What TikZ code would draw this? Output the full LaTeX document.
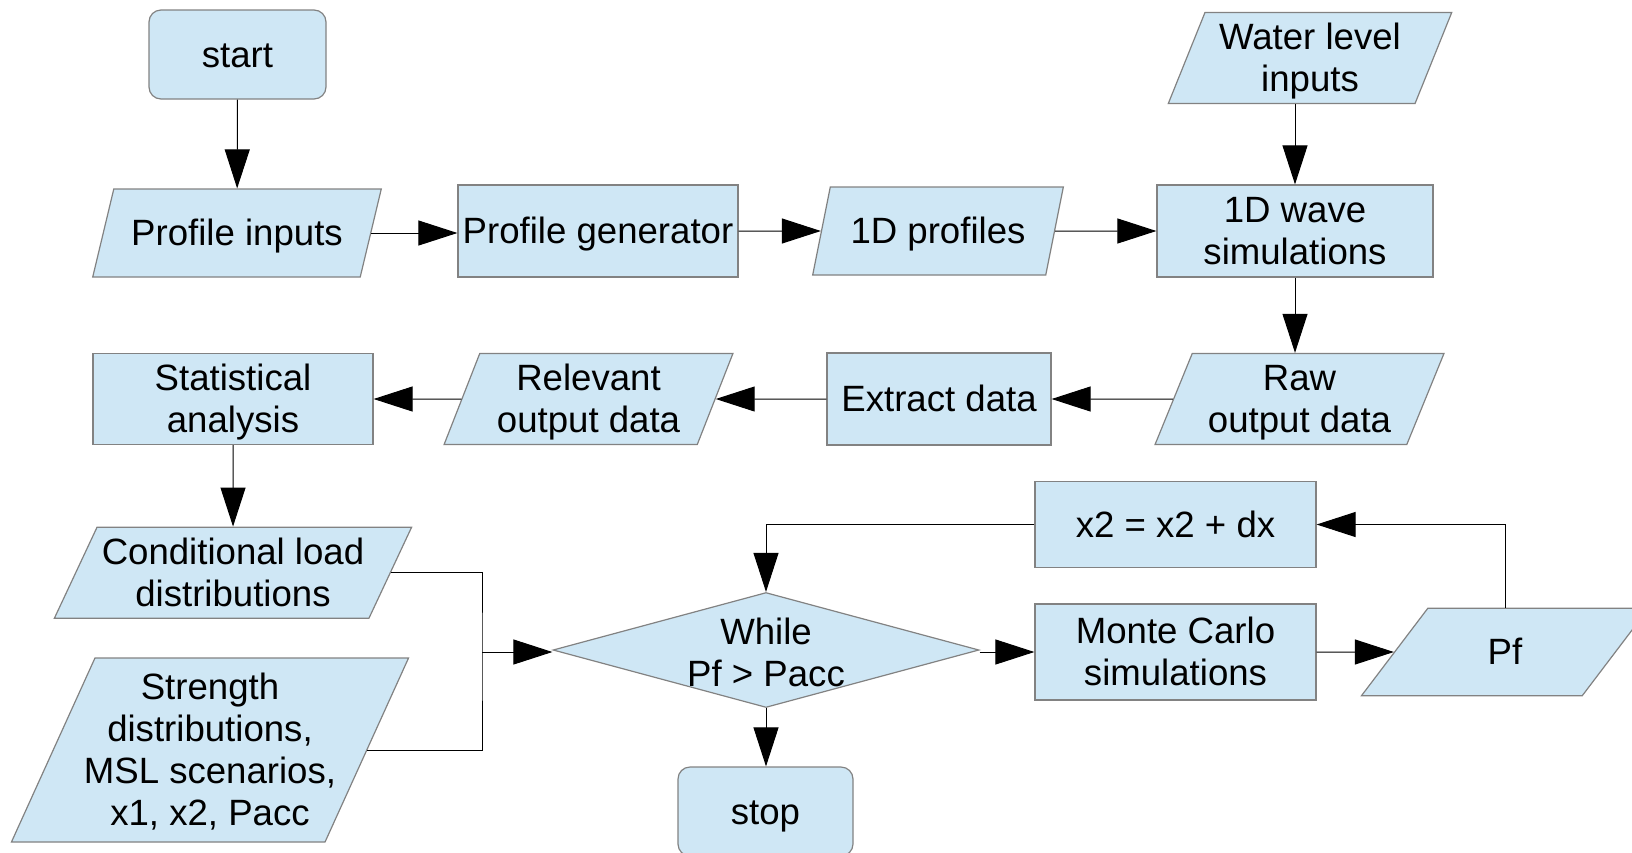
\documentclass[tikz,border=0pt]{standalone}
\usepackage{fontspec}
\setmainfont{Liberation Sans}
\usetikzlibrary{arrows.meta,shapes.geometric,calc}
\definecolor{boxFill}{RGB}{207,231,245}
\definecolor{boxLine}{RGB}{130,130,130}
\newcommand{\lostrut}{\rule[-0.212em]{0pt}{1.117em}}
\tikzset{fcpanel/.style={
  x=0.5pt, y=-0.5pt,
  font=\fontsize{18.3}{21.1}\selectfont,
  txt/.style={execute at begin node=\lostrut, execute at end node=\lostrut},
  base/.style={fill=boxFill, draw=boxLine, line width=0.6pt, align=center, inner sep=2pt, txt},
  term/.style={base, rounded corners=6pt},
  proc/.style={base},
  data/.style 2 args={base, trapezium, trapezium left angle=##1, trapezium right angle=##2, trapezium stretches=true},
  dec/.style={fill=boxFill, draw=boxLine, line width=0.6pt, diamond, inner sep=0pt},
  flow/.style={-{Triangle[length=19.5pt, width=12.5pt]}, line width=0.5pt},
  link/.style={line width=0.5pt},
}}

\begin{document}
\begin{tikzpicture}[fcpanel]
\useasboundingbox (0,0) rectangle (1632,852);

% =====================================================================
% Row 1: profiles and wave simulations
% =====================================================================
\node[term, minimum width=88.5pt, minimum height=44.5pt] (start) at (237.5,54.5) {start};
\node[data={69}{111}, minimum width=144.5pt, minimum height=44pt] (pin) at (237,233) {Profile inputs};
\node[proc, minimum width=140pt, minimum height=46pt] (pgen) at (598,231) {Profile generator};
\node[data={73}{107}, minimum width=125.5pt, minimum height=44pt] (prof) at (938,231) {1D profiles};
\node[data={70}{110}, minimum width=142pt, minimum height=44pt] (water) at (1310,58) {\lostrut Water level\\ inputs\lostrut};
\node[proc, minimum width=138pt, minimum height=46pt] (wave) at (1295,231) {\lostrut 1D wave\\ simulations\lostrut};

\draw[flow] (start) -- (pin);
\draw[flow] (pin.east) -- (pin.east -| pgen.west);
\draw[flow] (pgen) -- (prof);
\draw[flow] (prof) -- (wave);
\draw[flow] (water.south -| wave.north) -- (wave.north);

% =====================================================================
% Row 2: post-processing
% =====================================================================
\node[data={70}{110}, minimum width=144.5pt, minimum height=43.5pt] (raw) at (1299.5,399) {\lostrut Raw\\ output data\lostrut};
\node[proc, minimum width=112pt, minimum height=46pt] (extract) at (939,399) {Extract data};
\node[data={71}{109}, minimum width=144.5pt, minimum height=44pt] (rel) at (588.5,399) {\lostrut Relevant\\ output data\lostrut};
\node[proc, minimum width=140pt, minimum height=45pt] (stat) at (233,399) {\lostrut Statistical\\ analysis\lostrut};

\draw[flow] (wave) -- (wave |- raw.north);
\draw[flow] (raw) -- (extract);
\draw[flow] (extract) -- (rel);
\draw[flow] (rel) -- (stat);

% =====================================================================
% Row 3: reliability loop
% =====================================================================
\node[data={65}{115}, minimum width=179pt, minimum height=43.5pt] (cond) at (233,572.7) {\lostrut Conditional load\\ distributions\lostrut};
\node[data={65.5}{114.5}, inner xsep=-8pt, minimum width=199pt, minimum height=92pt] (str) at (210,750) {\lostrut Strength\\ distributions,\\ MSL scenarios,\\ x1, x2, Pacc\lostrut};
\node[dec, minimum width=213pt, minimum height=57.5pt] (loop) at (766,650) {};
\node[align=center] (looptxt) at ([yshift=-1.5pt]loop.center) {\lostrut While\\ Pf > Pacc\lostrut};
\node[term, minimum width=87.5pt, minimum height=44.5pt] (stop) at (765.5,811.5) {stop};
\node[proc, minimum width=140.5pt, minimum height=43pt] (upd) at (1175.5,524.5) {x2 = x2 + dx};
\node[proc, minimum width=140.5pt, minimum height=48pt] (mc) at (1175.5,652) {\lostrut Monte Carlo\\ simulations\lostrut};
\node[data={69.5}{110.5}, minimum width=144pt, minimum height=43.7pt] (pf) at (1505,652) {Pf};
\coordinate (jn) at (482,652);

\draw[flow] (stat) -- (cond);
\draw[link] (cond.east) -| (jn) |- (str.east);
\draw[flow] (jn) -- (jn -| loop.west);
\draw[flow] (loop.east |- mc) -- (mc);
\draw[flow] (mc) -- (pf);
\draw[flow] (loop.south) -- (loop.south |- stop.north);
\draw[flow] (pf.north) |- (upd.east);
\draw[flow] (upd.west) -| (loop.north);

\end{tikzpicture}
\end{document}
